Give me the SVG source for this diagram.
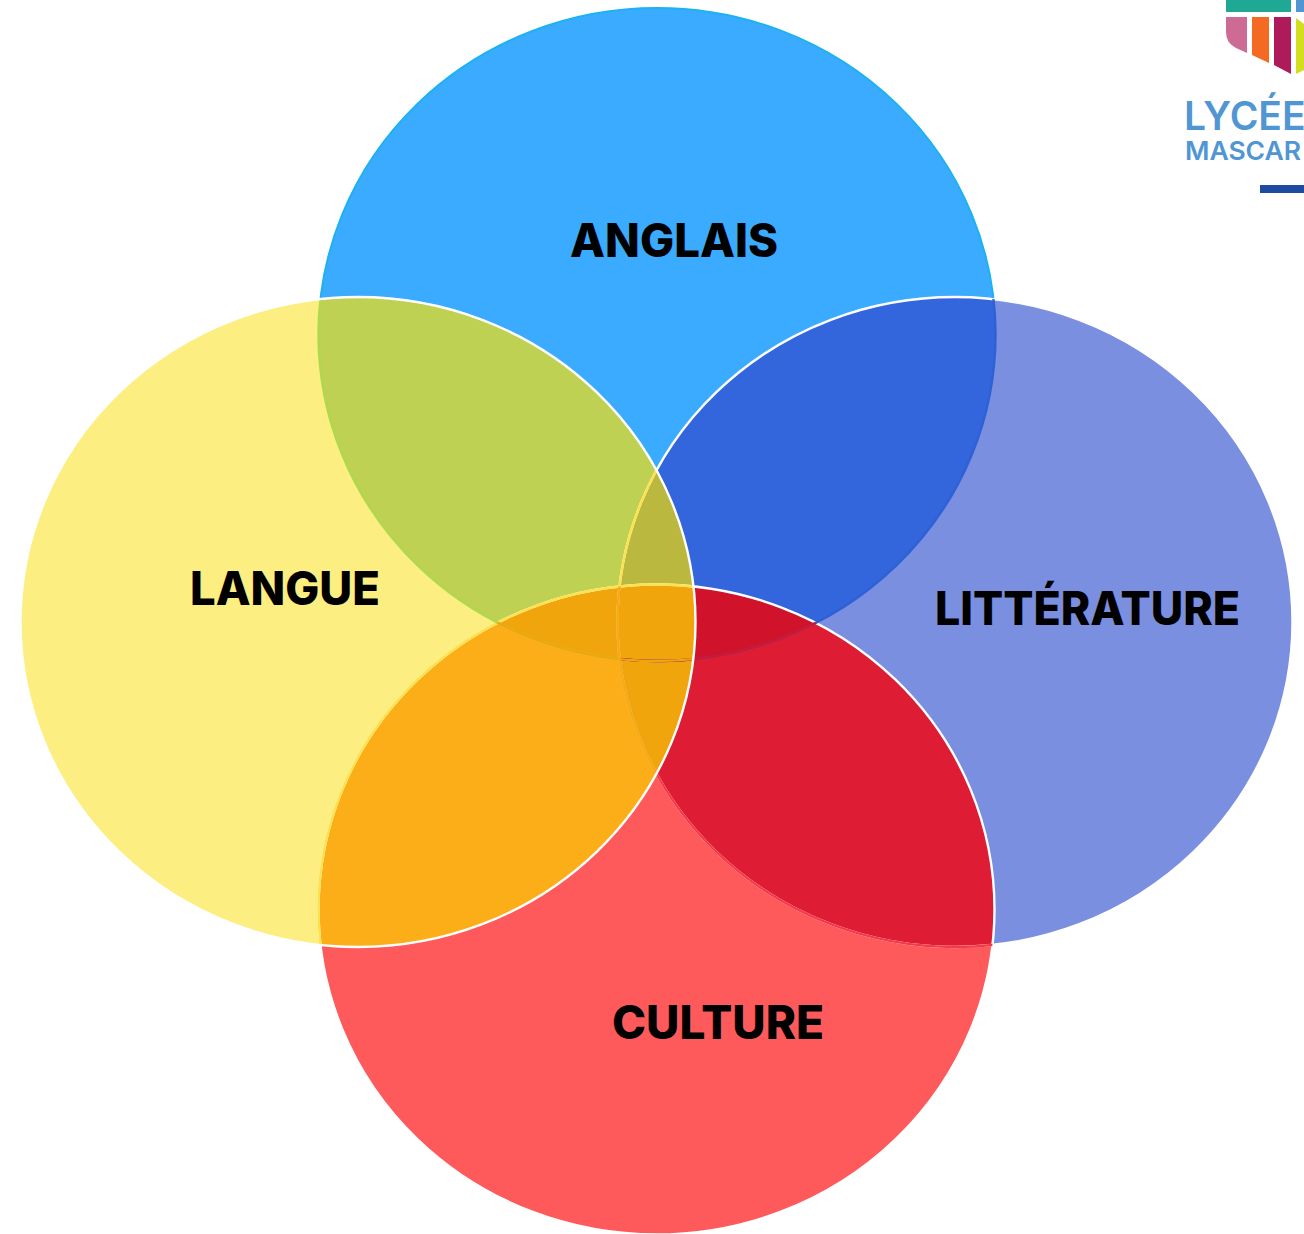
<svg xmlns="http://www.w3.org/2000/svg" width="1304" height="1234" viewBox="0 0 1304 1234">
<style>
.lbl{font-family:Inter,"Liberation Sans",sans-serif;font-weight:800;font-size:46px;fill:#000}
.logo{font-family:Inter,"Open Sans",sans-serif;font-weight:600;fill:#4f96d3}
.w{fill:none;stroke:#fff;stroke-width:2.4}
.n{fill:none;stroke-width:2.4}
</style>
<defs>
<ellipse id="eb" cx="657" cy="334.5" rx="338.5" ry="326.5"/>
<ellipse id="ey" cx="358" cy="622" rx="337.5" ry="325"/>
<ellipse id="ep" cx="955" cy="622" rx="337.5" ry="325"/>
<ellipse id="er" cx="656.5" cy="909.5" rx="338" ry="325"/>
<clipPath id="cb"><use href="#eb"/></clipPath>
<clipPath id="cy"><use href="#ey"/></clipPath>
<clipPath id="cp"><use href="#ep"/></clipPath>
<clipPath id="cr"><use href="#er"/></clipPath>
</defs>
<g id="node-anglais"><use href="#eb" fill="#3babff" stroke="#1cb2f2" stroke-width="2"/></g>
<g id="node-litterature"><use href="#ep" fill="#7a8fdf"/></g>
<g id="node-langue"><use href="#ey" fill="#fcee80"/></g>
<g id="node-culture"><use href="#er" fill="#ff5a5b"/></g>
<g id="overlaps">
<g clip-path="url(#cb)"><use href="#ey" fill="#bfd152"/><use href="#ep" fill="#3365dc"/></g>
<g clip-path="url(#cy)"><use href="#er" fill="#fcae19"/></g>
<g clip-path="url(#cp)"><use href="#er" fill="#de1c33"/></g>
<g clip-path="url(#cy)"><use href="#ep" fill="#f0a50c"/></g>
<g clip-path="url(#cb)"><g clip-path="url(#cp)"><use href="#er" fill="#d0122a"/></g>
<g clip-path="url(#cy)"><use href="#ep" fill="#bab83e"/><use href="#er" fill="#f0a50c"/></g></g>
</g>
<g id="edges">
<use href="#ep" class="w"/>
<use href="#er" class="w"/>
<g clip-path="url(#cr)"><use href="#ep" class="n" stroke="#f43a48"/></g>
<g clip-path="url(#cy)"><use href="#ep" class="n" stroke="#fde24d"/><use href="#er" class="n" stroke="#fde24d"/><use href="#eb" class="n" stroke="#aed84e"/></g>
<g clip-path="url(#cp)"><use href="#eb" class="n" stroke="#2f60d6"/></g>
<g clip-path="url(#cr)"><g clip-path="url(#cp)"><use href="#eb" class="n" stroke="#d5152c"/></g><g clip-path="url(#cy)"><use href="#eb" class="n" stroke="#f0a50c"/><use href="#ep" class="n" stroke="#f5ac10"/></g></g>
<use href="#ey" class="w"/>
</g>
<g id="logo">
<rect x="1226" y="0" width="65" height="12" fill="#1fa994"/>
<rect x="1296" y="0" width="8" height="12" fill="#4f96d3"/>
<path d="M1226 17H1247V53L1236 48Q1226 43 1226 32Z" fill="#cd6b94"/>
<path d="M1252 17H1269V63L1252 55Z" fill="#f46a22"/>
<path d="M1274 17H1291V74L1274 65Z" fill="#ae1a5a"/>
<path d="M1296 18L1304 24V70L1296 74Z" fill="#d2de1e"/>
<text class="logo" x="1184" y="130" font-size="39">LYCÉE</text>
<text class="logo" x="1185" y="160" font-size="26" textLength="116" lengthAdjust="spacingAndGlyphs">MASCAR</text>
<rect x="1260" y="185" width="44" height="8" fill="#1c4ba0"/>
</g>
<g id="labels">
<text class="lbl" x="570" y="257" textLength="208" lengthAdjust="spacingAndGlyphs">ANGLAIS</text>
<text class="lbl" x="190" y="605" textLength="190" lengthAdjust="spacingAndGlyphs">LANGUE</text>
<text class="lbl" x="935" y="625" textLength="305" lengthAdjust="spacingAndGlyphs">LITTÉRATURE</text>
<text class="lbl" x="612" y="1039" textLength="212" lengthAdjust="spacingAndGlyphs">CULTURE</text>
</g>
</svg>
